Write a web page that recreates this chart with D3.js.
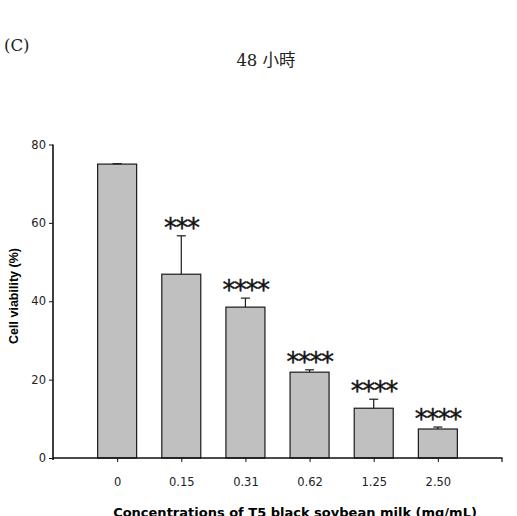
<!DOCTYPE html>
<html>
<head>
<meta charset="utf-8">
<script src="https://cdn.jsdelivr.net/npm/d3@7"></script>
<style>
  body { margin: 0; background: #fff; }
  svg { display: block; }
</style>
</head>
<body>
<script>
// concentrations (mg/mL) and mean viability, upper error, significance marks
var concentrations = ["0", "0.15", "0.31", "0.62", "1.25", "2.50"];
var viability = [75.0, 46.9, 38.5, 21.9, 12.7, 7.4];
var errors = [0.1, 9.8, 2.3, 0.6, 2.3, 0.5];
var stars = ["", "***", "****", "****", "****", "****"];
var yTicks = [0, 20, 40, 60, 80];

var width = 517, height = 516;

var svg = d3.select("body").append("svg")
  .attr("width", width)
  .attr("height", height);

var x = d3.scalePoint()
  .domain(concentrations)
  .range([53, 502])
  .padding(1);

var y = d3.scaleLinear()
  .domain([0, 80])
  .range([458, 144.5]);

var barW = 39;

// bars
svg.selectAll("rect.bar")
  .data(viability)
  .enter()
  .append("rect")
  .attr("class", "bar")
  .attr("x", function (d, i) { return x(concentrations[i]) - barW / 2; })
  .attr("y", function (d) { return y(d); })
  .attr("width", barW)
  .attr("height", function (d) { return y(0) - y(d); })
  .attr("fill", "#c0c0c0")
  .attr("stroke", "#1a1a1a")
  .attr("stroke-width", 1.2);

// upper error whiskers
var eb = svg.selectAll("g.err")
  .data(viability)
  .enter()
  .append("g")
  .attr("class", "err")
  .attr("stroke", "#1a1a1a")
  .attr("stroke-width", 1.2);

eb.append("line")
  .attr("x1", function (d, i) { return x(concentrations[i]); })
  .attr("x2", function (d, i) { return x(concentrations[i]); })
  .attr("y1", function (d) { return y(d); })
  .attr("y2", function (d, i) { return y(d + errors[i]); });

eb.append("line")
  .attr("x1", function (d, i) { return x(concentrations[i]) - 4.5; })
  .attr("x2", function (d, i) { return x(concentrations[i]) + 4.5; })
  .attr("y1", function (d, i) { return y(d + errors[i]); })
  .attr("y2", function (d, i) { return y(d + errors[i]); });

// significance stars
svg.selectAll("text.star")
  .data(viability)
  .enter()
  .append("text")
  .attr("class", "star")
  .attr("x", function (d, i) { return x(concentrations[i]); })
  .attr("y", function (d, i) { return y(d + errors[i]) + 1; })
  .attr("text-anchor", "middle")
  .attr("font-family", "DejaVu Sans")
  .attr("font-size", 26)
  .attr("letter-spacing", -1.5)
  .attr("stroke", "#111")
  .attr("stroke-width", 0.4)
  .attr("fill", "#111")
  .text(function (d, i) { return stars[i]; });

// axes
var xAxis = svg.append("g")
  .attr("transform", "translate(0," + y(0) + ")")
  .call(d3.axisBottom(x).tickSize(4).tickSizeOuter(0).tickPadding(16));
xAxis.select(".domain").remove();
xAxis.append("line")
  .attr("x1", 53).attr("x2", 502.5)
  .attr("stroke", "#111").attr("stroke-width", 1.5);
xAxis.append("line")
  .attr("x1", 502).attr("x2", 502).attr("y1", 0).attr("y2", 4)
  .attr("stroke", "#111").attr("stroke-width", 1.2);

var yAxis = svg.append("g")
  .attr("transform", "translate(53,0)")
  .call(d3.axisLeft(y).tickValues(yTicks).tickSize(4).tickSizeOuter(0).tickPadding(3));
yAxis.select(".domain")
  .attr("stroke-width", 1.5)
  .attr("d", "M0," + (y(80)) + "V" + (y(0) + 2));

svg.selectAll(".tick text")
  .attr("font-family", "DejaVu Sans")
  .attr("font-size", 11.5)
  .attr("fill", "#222");
svg.selectAll(".tick line").attr("stroke", "#111");

// axis titles
svg.append("text")
  .attr("transform", "translate(18,296) rotate(-90)")
  .attr("text-anchor", "middle")
  .attr("font-family", "Liberation Sans, Arial")
  .attr("font-weight", "bold")
  .attr("font-size", 12.5)
  .text("Cell viability (%)");

svg.append("text")
  .attr("x", 295)
  .attr("y", 517)
  .attr("text-anchor", "middle")
  .attr("font-family", "DejaVu Sans")
  .attr("font-weight", "bold")
  .attr("font-size", 13)
  .text("Concentrations of T5 black soybean milk (mg/mL)");

// panel label and title
svg.append("text")
  .attr("x", 4)
  .attr("y", 51)
  .attr("font-family", "DejaVu Serif")
  .attr("font-size", 16.5)
  .attr("fill", "#222")
  .text("(C)");

svg.append("text")
  .attr("x", 266)
  .attr("y", 66)
  .attr("text-anchor", "middle")
  .attr("font-family", "DejaVu Serif, Noto Sans CJK TC")
  .attr("font-size", 16.5)
  .attr("fill", "#222")
  .text("48 小時");
</script>
</body>
</html>
